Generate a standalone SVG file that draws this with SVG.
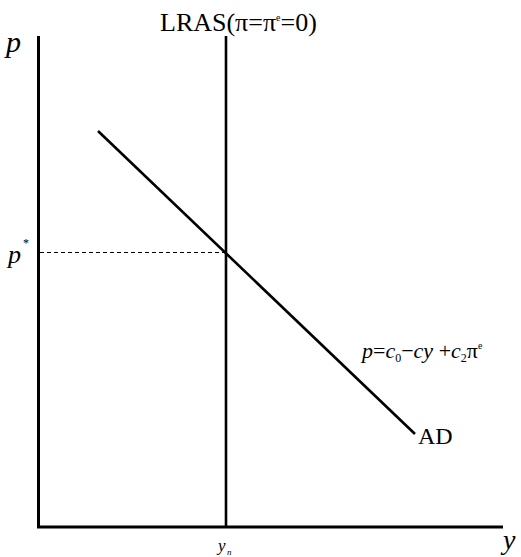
<svg xmlns="http://www.w3.org/2000/svg" width="521" height="557" viewBox="0 0 521 557">
<style>
.ax{stroke:#000;stroke-width:3;fill:none}
.ln{stroke:#000;stroke-width:2.6;fill:none}
.dash{stroke:#000;stroke-width:1;stroke-dasharray:4,3;fill:none}
text{font-family:"Liberation Serif","Times New Roman",serif;fill:#000}
.it{font-style:italic}
</style>
<rect width="521" height="557" fill="#fff"/>
<g id="connectors">
<path class="ax" d="M38.5,36 V527 M37,527 H503"/>
<path class="dash" d="M40,252.5 H226"/>
</g>
<g id="LRAS">
<path class="ln" d="M226,36 V527"/>
<text x="160" y="31" font-size="26">LRAS(π=π<tspan font-size="10" dy="-10">e</tspan><tspan dy="10">=0)</tspan></text>
</g>
<g id="AD">
<path class="ln" d="M98,131 L415,434"/>
<text x="418" y="444" font-size="24">AD</text>
<text x="362" y="358" font-size="22"><tspan class="it">p</tspan>=<tspan class="it">c</tspan><tspan font-size="12" dy="4">0</tspan><tspan dy="-4">−</tspan><tspan class="it">cy</tspan> +<tspan class="it">c</tspan><tspan font-size="12" dy="4">2</tspan><tspan dy="-4">π</tspan><tspan font-size="10" dy="-9">e</tspan></text>
</g>
<g id="labels">
<text class="it" x="6" y="52" font-size="30">p</text>
<text class="it" x="8" y="263" font-size="26">p</text>
<text x="23" y="247" font-size="12">*</text>
<text class="it" x="218" y="551" font-size="17">y</text>
<text class="it" x="227" y="555" font-size="9">n</text>
<text class="it" x="503" y="549" font-size="28">y</text>
</g>
</svg>
